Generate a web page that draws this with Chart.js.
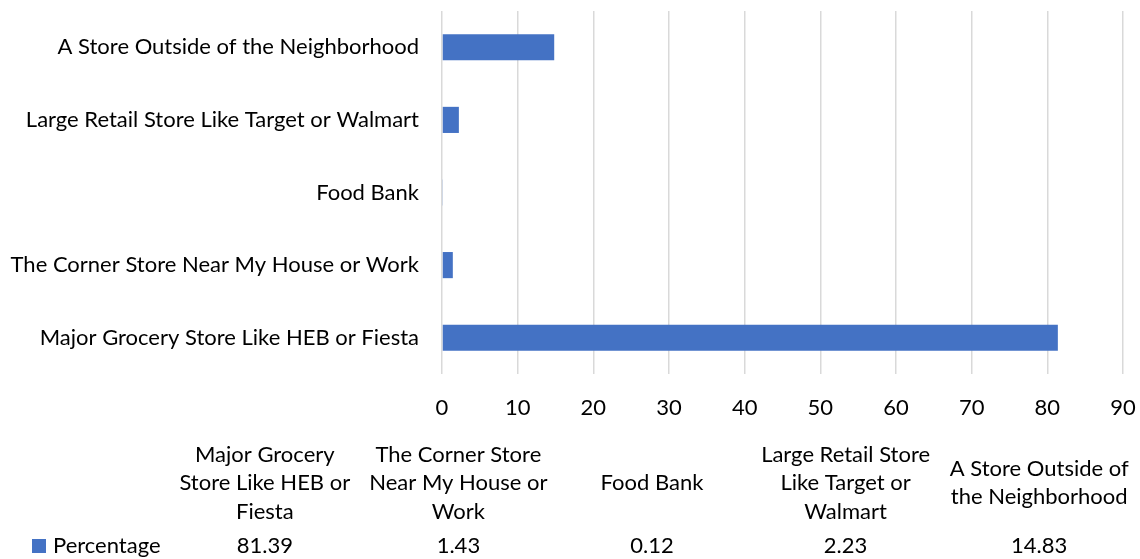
<!DOCTYPE html>
<html>
<head>
<meta charset="utf-8">
<script src="https://cdn.jsdelivr.net/npm/chart.js@4.4.1/dist/chart.umd.min.js"></script>
<style>
    html, body { margin: 0; padding: 0; background: #fff; }
    #wrap { width: 1140px; height: 559px; position: relative; }
</style>
</head>
<body>
<div id="wrap"><canvas id="chart"></canvas></div>
<script>
// where people shop for food, share of answers
var categories = [
    'Major Grocery Store Like HEB or Fiesta',
    'The Corner Store Near My House or Work',
    'Food Bank',
    'Large Retail Store Like Target or Walmart',
    'A Store Outside of the Neighborhood'
];
var seriesName = 'Percentage';
var percentages = [81.39, 1.43, 0.12, 2.23, 14.83];
var tickValues = [0, 10, 20, 30, 40, 50, 60, 70, 80, 90];

var FONT = 'Lato, "Open Sans", sans-serif';
var FONT_SIZE = 22;
var BLUE = '#4472C4';
var TEXT = '#000000';

// splits a header into lines that fit one table column
function wrapText(ctx, text, maxWidth) {
    var words = text.split(' ');
    var lines = [];
    var line = '';
    for (var i = 0; i < words.length; i++) {
        var test = line ? line + ' ' + words[i] : words[i];
        if (ctx.measureText(test).width > maxWidth && line) {
            lines.push(line);
            line = words[i];
        } else {
            line = test;
        }
    }
    if (line) lines.push(line);
    return lines;
}

// data table under the x axis: headers, legend key and values
var dataTable = {
    id: 'dataTable',
    afterDraw: function (chart) {
        var ctx = chart.ctx;
        var left = 168, right = 1136;
        var colW = (right - left) / categories.length;
        var headMid = 483, lineH = 28.5, valueY = 546;

        ctx.save();
        ctx.font = FONT_SIZE + 'px ' + FONT;
        ctx.fillStyle = TEXT;
        ctx.textAlign = 'center';
        ctx.textBaseline = 'middle';

        for (var i = 0; i < categories.length; i++) {
            var cx = left + colW * (i + 0.5);
            var lines = wrapText(ctx, categories[i], colW - 8);
            var y0 = headMid - (lines.length - 1) * lineH / 2;
            for (var j = 0; j < lines.length; j++) {
                ctx.fillText(lines[j], cx, y0 + j * lineH);
            }
            ctx.fillText(percentages[i].toFixed(2), cx, valueY);
        }

        ctx.fillStyle = BLUE;
        ctx.fillRect(32, valueY - 7, 14, 14);
        ctx.fillStyle = TEXT;
        ctx.textAlign = 'left';
        ctx.fillText(seriesName, 53, valueY);
        ctx.restore();
    }
};

Chart.defaults.font.family = FONT;
Chart.defaults.font.size = FONT_SIZE;
Chart.defaults.color = TEXT;

new Chart(document.getElementById('chart'), {
    type: 'bar',
    data: {
        labels: categories,
        datasets: [{
            label: seriesName,
            data: percentages,
            backgroundColor: BLUE,
            categoryPercentage: 0.9,
            barPercentage: 0.4
        }]
    },
    options: {
        indexAxis: 'y',
        responsive: true,
        maintainAspectRatio: false,
        animation: false,
        layout: { padding: { top: 11, right: 17, bottom: 140, left: 0 } },
        plugins: {
            legend: { display: false },
            tooltip: { enabled: false }
        },
        scales: {
            x: {
                min: 0,
                max: 90,
                afterBuildTicks: function (scale) {
                    scale.ticks = tickValues.map(function (v) { return { value: v }; });
                },
                afterFit: function (scale) {
                    scale.height = 45;
                    scale.paddingLeft = 0;
                    scale.paddingRight = 0;
                },
                grid: { color: '#D9D9D9', lineWidth: 1.5, drawTicks: false },
                border: { display: false },
                ticks: { padding: 21, color: TEXT, maxRotation: 0 }
            },
            y: {
                reverse: true,
                afterFit: function (scale) {
                    scale.width = 442;
                    scale.paddingTop = 0;
                    scale.paddingBottom = 0;
                },
                grid: { display: false, drawTicks: false },
                border: { display: false },
                ticks: { padding: 23, color: TEXT }
            }
        }
    },
    plugins: [dataTable]
});
</script>
</body>
</html>
